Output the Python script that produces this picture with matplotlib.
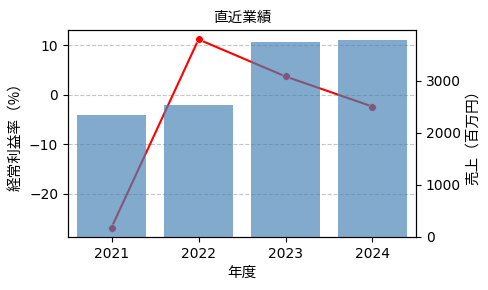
import matplotlib
matplotlib.use("Agg")
import matplotlib.pyplot as plt
import numpy as np

plt.rcParams['font.family'] = ['Noto Sans CJK JP', 'DejaVu Sans']
plt.rcParams['axes.unicode_minus'] = True

years = ["2021", "2022", "2023", "2024"]
sales = [2350, 2540, 3750, 3790]          # 売上（百万円）
margin = [-26.9, 11.2, 3.7, -2.4]         # 経常利益率（%）

fig, ax1 = plt.subplots(figsize=(4.89, 2.9), dpi=100)
x = np.arange(len(years))

ax1.plot(x, margin, color="red", marker="o", markersize=5.5, linewidth=1.5,
         markeredgecolor="white", markeredgewidth=0.4, zorder=3)
ax1.grid(axis="y", linestyle="--", color="gray", alpha=0.45, linewidth=0.8)
ax1.set_ylabel("経常利益率（%）", fontsize=10.5)
ax1.set_xlabel("年度", fontsize=10.5)
ax1.set_xticks(x)
ax1.set_xticklabels(years)

ax2 = ax1.twinx()
ax2.bar(x, sales, width=0.8, color="#4682b4", alpha=0.68)
ax2.set_ylabel("売上（百万円）", fontsize=10.5)
ax2.set_ylim(0, max(sales) * 1.05)
ax1.set_xlim(-0.5, len(years) - 0.5)

for ax in (ax1, ax2):
    ax.tick_params(labelsize=10)
    for lab in ax.get_xticklabels() + ax.get_yticklabels():
        lab.set_family('DejaVu Sans')

ax1.set_title("直近業績", fontsize=10.5)
fig.subplots_adjust(left=68/489, right=416/489, top=1-30/290, bottom=1-237/290)
fig.savefig("out.png", dpi=100)
